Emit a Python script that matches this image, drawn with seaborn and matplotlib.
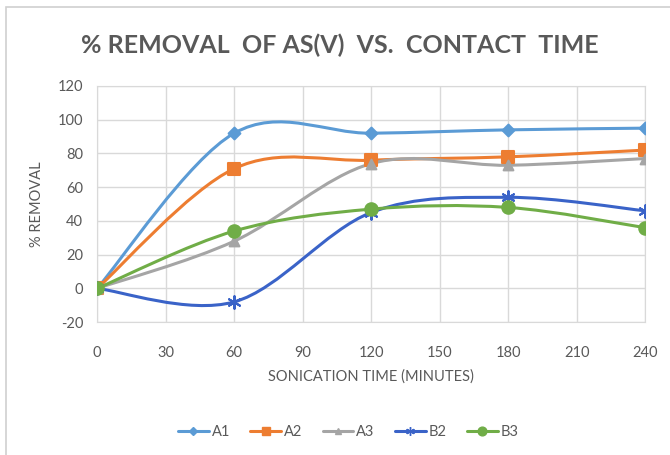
import numpy as np
import pandas as pd
import seaborn as sns
import matplotlib.pyplot as plt
from matplotlib.path import Path
from matplotlib.patches import PathPatch, Rectangle
from matplotlib.lines import Line2D

# Data
time = [0, 60, 120, 180, 240]
a1 = [0, 92, 92, 94, 95]
a2 = [0, 71, 76, 78, 82]
a3 = [0, 28, 74, 73, 77]
b2 = [0, -8, 45, 54, 46]
b3 = [0, 34, 47, 48, 36]
series = ['A1', 'A2', 'A3', 'B2', 'B3']
colors = ['#5B9BD5', '#ED7D31', '#A5A5A5', '#3A63C8', '#70AD47']
markers = ['D', 's', '^', (6, 2, 0), 'o']
msizes = [6, 9, 7, 9, 9]

df = pd.DataFrame({'time': time * 5,
                   'removal': a1 + a2 + a3 + b2 + b3,
                   'series': np.repeat(series, len(time))})

sns.set_style('white')
plt.rcParams['font.family'] = ['Lato', 'DejaVu Sans']
plt.rcParams['axes.unicode_minus'] = False
grey = '#595959'

fig = plt.figure(figsize=(6.7, 4.55), dpi=100)
ax = fig.add_axes([0.145, 0.292, 0.818, 0.519])

# smoothed lines like Excel (Bezier segments from the data points)
def smooth_path(x, y):
    pts = np.column_stack([x, y]).astype(float)
    n = len(pts)
    verts = [pts[0]]
    codes = [Path.MOVETO]
    for i in range(n - 1):
        p0 = pts[max(i - 1, 0)]
        p1 = pts[i]
        p2 = pts[i + 1]
        p3 = pts[min(i + 2, n - 1)]
        verts += [p1 + (p2 - p0) / 6, p2 - (p3 - p1) / 6, p2]
        codes += [Path.CURVE4] * 3
    return Path(verts, codes)

for name, c in zip(series, colors):
    d = df[df['series'] == name]
    ax.add_patch(PathPatch(smooth_path(d['time'], d['removal']), fc='none',
                           ec=c, lw=2.2, zorder=3, capstyle='round'))

for name, c, m, s in zip(series, colors, markers, msizes):
    d = df[df['series'] == name]
    sns.scatterplot(data=d, x='time', y='removal', ax=ax, color=c, marker=m,
                    s=s ** 2, edgecolor=c, linewidth=1.5, zorder=4, legend=False)

ax.set_xlim(0, 240)
ax.set_ylim(-20, 120)
ax.set_xticks(range(0, 241, 30))
ax.set_yticks(range(-20, 121, 20))
ax.grid(True, color='#D9D9D9', lw=1)
for sp in ax.spines.values():
    sp.set_color('#D9D9D9')
ax.tick_params(length=0, labelsize=10.5, colors=grey)
ax.tick_params(axis='x', pad=17)
ax.tick_params(axis='y', pad=10)
ax.set_xlabel('SONICATION TIME (MINUTES)', fontsize=10.5, color=grey, labelpad=7)
ax.set_ylabel('% REMOVAL', fontsize=10.5, color=grey, labelpad=10)

fig.text(0.507, 0.9, '% REMOVAL  OF AS(V)  VS.  CONTACT  TIME', ha='center',
         va='center', fontsize=18, fontweight='bold', color=grey)

handles = [Line2D([0], [0], color=c, lw=2.2, marker=m, markersize=s * 0.7,
                  markerfacecolor=c, markeredgecolor=c)
           for c, m, s in zip(colors, markers, msizes)]
fig.legend(handles, series, loc='center', bbox_to_anchor=(0.52, 0.05), ncol=5,
           frameon=False, fontsize=10.5, labelcolor=grey, handlelength=2.1,
           handletextpad=0.2, columnspacing=1.4)

# chart border
fig.patches.append(Rectangle((6 / 670, -0.1), 1.2, 1 - 7 / 455 + 0.1,
                             transform=fig.transFigure, fill=False,
                             ec='#D0D0D0', lw=1.2))

fig.savefig('out.png', dpi=100)
